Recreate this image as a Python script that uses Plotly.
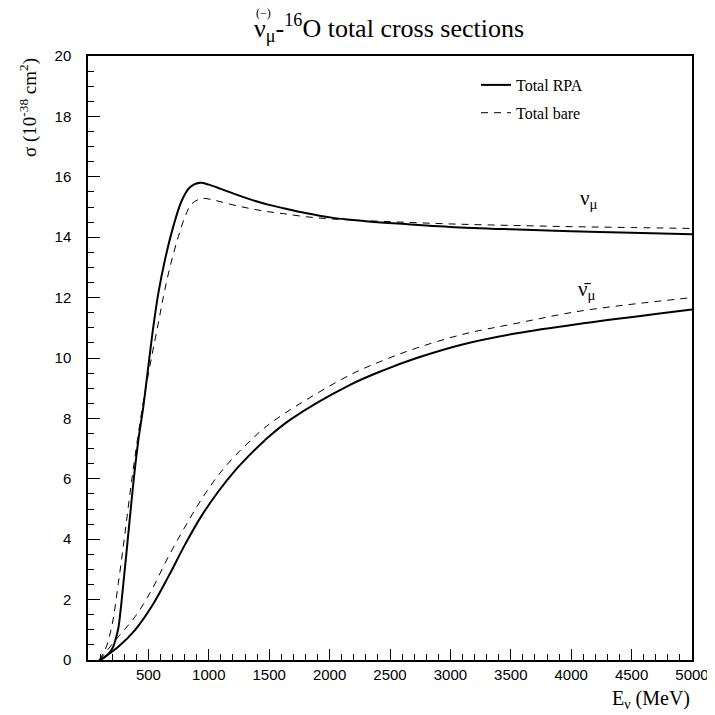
import plotly.graph_objects as go

# ---- data ----
E_nu_rpa = [100, 141, 180, 210, 230, 251, 270, 292, 334, 375, 417, 458, 499, 541, 582, 637, 706, 775, 844, 927,
            1000, 1100, 1200, 1300, 1400, 1500, 1617, 1800, 2031, 2300, 2528, 2997, 3500, 4000, 4500, 5000]
S_nu_rpa = [0.0, 0.1, 0.25, 0.45, 0.7, 1.05, 1.65, 2.5, 4.19, 5.85, 7.28, 8.39, 9.71, 11.04, 12.14, 13.25, 14.35, 15.2, 15.65, 15.8,
            15.74, 15.6, 15.45, 15.31, 15.18, 15.07, 14.96, 14.8, 14.64, 14.53, 14.46, 14.34, 14.26, 14.2, 14.15, 14.1]

E_nu_bare = [90, 141, 196, 251, 306, 360, 417, 460, 527, 582, 624, 679, 748, 803, 858, 941,
             1050, 1200, 1341, 1465, 1617, 1800, 2031, 2528, 2997, 3500, 4000, 4500, 5000]
S_nu_bare = [0.0, 0.33, 1.1, 2.54, 4.19, 5.9, 7.5, 8.6, 10.04, 11.15, 12.03, 13.02, 14.02, 14.68, 15.1, 15.28,
             15.22, 15.07, 14.95, 14.86, 14.78, 14.68, 14.6, 14.51, 14.44, 14.39, 14.35, 14.32, 14.29]

E_anu_rpa = [100, 251, 389, 527, 665, 803, 941, 1079, 1217, 1341, 1465, 1672, 2169, 2450, 2721, 3100, 3549, 4100, 5000]
S_anu_rpa = [0.0, 0.44, 0.99, 1.77, 2.76, 3.82, 4.78, 5.58, 6.27, 6.8, 7.28, 7.95, 9.11, 9.6, 10.0, 10.45, 10.82, 11.15, 11.61]

E_anu_bare = [95, 251, 389, 527, 665, 803, 941, 1079, 1217, 1341, 1465, 1672, 2169, 2450, 2721, 3100, 3549, 4100, 5000]
S_anu_bare = [0.0, 0.77, 1.43, 2.32, 3.42, 4.41, 5.33, 6.12, 6.76, 7.25, 7.7, 8.28, 9.44, 9.93, 10.33, 10.78, 11.15, 11.57, 12.0]

x_ticks = [500, 1000, 1500, 2000, 2500, 3000, 3500, 4000, 4500, 5000]
y_ticks = [0, 2, 4, 6, 8, 10, 12, 14, 16, 18, 20]

SERIF = "Liberation Serif"
SANS = "Liberation Sans"

fig = go.Figure()
solid = dict(color="black", width=2)
dashed = dict(color="black", width=1, dash="7px,6px")
SM = 1.0

fig.add_trace(go.Scatter(x=E_nu_rpa, y=S_nu_rpa, mode="lines", line=dict(shape="spline", smoothing=SM, **solid),
                         name="Total RPA", legendgroup="a", showlegend=True))
fig.add_trace(go.Scatter(x=E_nu_bare, y=S_nu_bare, mode="lines", line=dict(shape="spline", smoothing=SM, **dashed),
                         name="Total bare", legendgroup="b", showlegend=True))
fig.add_trace(go.Scatter(x=E_anu_rpa, y=S_anu_rpa, mode="lines", line=dict(shape="spline", smoothing=SM, **solid),
                         showlegend=False))
fig.add_trace(go.Scatter(x=E_anu_bare, y=S_anu_bare, mode="lines", line=dict(shape="spline", smoothing=SM, **dashed),
                         showlegend=False))

# page has an 8px body margin; figure coordinates are screen coordinates minus 8
OFF = 8
W = 707
L, R, T, B = 80, 23, 48, 55
PW = W - L - R
PH = W - T - B

def px(x):
    return (x - OFF - L) / PW

def py(y):
    return (W - B - (y - OFF)) / PH

annotations = [
    # title
    dict(text="ν<sub>μ</sub>-<sup>16</sup>O total cross sections", x=px(252), y=py(38), xanchor="left", yanchor="bottom",
         font=dict(family=SERIF, size=26, color="black"), yshift=-10),
    dict(text="(−)", x=px(263), y=py(13), xanchor="center", yanchor="middle",
         font=dict(family=SERIF, size=12, color="black")),
    # y title
    dict(text="σ (10<sup>-38</sup> cm<sup>2</sup>)", x=px(28), y=py(108), xanchor="center", yanchor="middle", textangle=-90,
         font=dict(family=SERIF, size=19, color="black")),
    # x title
    dict(text="E<sub>ν</sub> (MeV)", x=px(692), y=py(700), xanchor="right", yanchor="middle",
         font=dict(family=SERIF, size=20, color="black")),
    # curve labels
    dict(text="ν<sub>μ</sub>", x=px(589), y=py(199), xanchor="center", yanchor="middle",
         font=dict(family=SERIF, size=21, color="black")),
    dict(text="ν̄<sub>μ</sub>", x=px(587), y=py(290), xanchor="center", yanchor="middle",
         font=dict(family=SERIF, size=21, color="black")),
]
for a in annotations:
    a.update(xref="paper", yref="paper", showarrow=False)

fig.update_layout(
    width=W, height=W,
    margin=dict(l=L, r=R, t=T, b=B, autoexpand=False),
    paper_bgcolor="white", plot_bgcolor="white",
    annotations=annotations,
    legend=dict(x=px(476), y=py(68), xanchor="left", yanchor="top", bgcolor="rgba(0,0,0,0)",
                font=dict(family=SERIF, size=16, color="black"), tracegroupgap=4, traceorder="grouped",
                itemwidth=30),
    xaxis=dict(range=[0, 5000], tickvals=x_ticks, ticktext=[str(v) for v in x_ticks],
               ticks="inside", ticklen=11, tickwidth=1, tickcolor="black",
               minor=dict(dtick=100, tick0=0, ticks="inside", ticklen=6, tickcolor="black", tickwidth=1, showgrid=False),
               showgrid=False, zeroline=False, showline=True, linecolor="black", linewidth=1.5, mirror=True,
               tickfont=dict(family=SANS, size=15, color="black"), ticklabelstandoff=0),
    yaxis=dict(range=[0, 20], tickvals=y_ticks, ticktext=[str(v) for v in y_ticks],
               ticks="inside", ticklen=12, tickwidth=1, tickcolor="black",
               minor=dict(dtick=0.5, tick0=0, ticks="inside", ticklen=6, tickcolor="black", tickwidth=1, showgrid=False),
               showgrid=False, zeroline=False, showline=True, linecolor="black", linewidth=1.5, mirror=True,
               tickfont=dict(family=SANS, size=15, color="black"), ticklabelstandoff=12),
)

fig.write_html("out.html")
